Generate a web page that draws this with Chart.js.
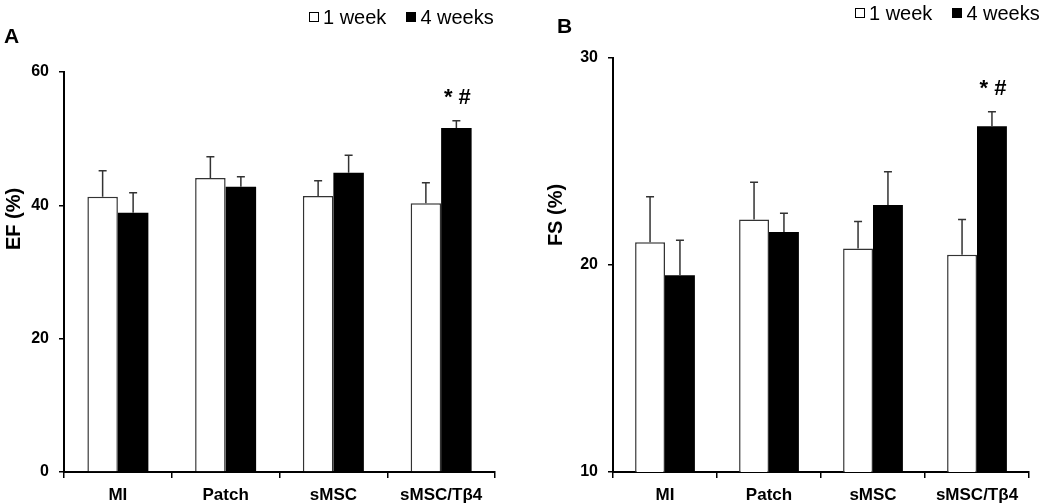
<!DOCTYPE html>
<html>
<head>
<meta charset="utf-8">
<script src="https://cdn.jsdelivr.net/npm/chart.js@4.4.1/dist/chart.umd.min.js"></script>
<style>
  body { margin: 0; background: #fff; font-family: 'Liberation Sans', Arial, sans-serif; }
  #wrap { position: relative; width: 1050px; height: 504px; overflow: hidden; }
  canvas { position: absolute; top: 0; }
  .letter { position: absolute; font-weight: bold; font-size: 21px; color: #000; }
  .legend { position: absolute; font-size: 20px; color: #000; white-space: nowrap; }
  .sw { display: inline-block; width: 8px; height: 8px; border: 1px solid #000; margin-right: 4px; vertical-align: 2px; }
  .sw.on { background: #000; margin-left: 20px; }
  .ytitle { position: absolute; font-weight: bold; font-size: 20px; color: #000; white-space: nowrap;
            width: 100px; text-align: center; line-height: 24px; transform: translate(-50%, -50%) rotate(-90deg); }
</style>
</head>
<body>
<div id="wrap">
  <canvas id="chartA" width="520" height="504" style="left:0"></canvas>
  <canvas id="chartB" width="530" height="504" style="left:520px"></canvas>
  <div class="letter" style="left:4px; top:24px">A</div>
  <div class="letter" style="left:557px; top:14px">B</div>
  <div class="legend" style="left:309px; top:6px"><span class="sw"></span>1 week<span class="sw on"></span>4 weeks</div>
  <div class="legend" style="left:855px; top:2px"><span class="sw"></span>1 week<span class="sw on"></span>4 weeks</div>
  <div class="ytitle" style="left:13px; top:219px">EF (%)</div>
  <div class="ytitle" style="left:555px; top:215px">FS (%)</div>
</div>
<script>
const groups = ['MI', 'Patch', 'sMSC', 'sMSC/Tβ4'];
const seriesNames = ['1 week', '4 weeks'];

// EF (%) panel A
const efWeek1 = [41.3, 44.1, 41.4, 40.3];
const efWeek1Err = [3.9, 3.2, 2.3, 3.1];
const efWeek4 = [38.9, 42.8, 44.9, 51.6];
const efWeek4Err = [3.0, 1.5, 2.6, 1.1];

// FS (%) panel B
const fsWeek1 = [21.1, 22.2, 20.8, 20.5];
const fsWeek1Err = [2.2, 1.8, 1.3, 1.7];
const fsWeek4 = [19.5, 21.6, 22.9, 26.7];
const fsWeek4Err = [1.7, 0.9, 1.6, 0.7];

const sigMarks = ['', '', '', '* #'];

const FONT = "'Liberation Sans', Arial, sans-serif";

// draws upper error bars + significance text above the 4-week bars
const errorBars = {
    id: 'errorBars',
    afterDatasetsDraw(chart) {
        const ctx = chart.ctx;
        const yScale = chart.scales.y;
        chart.data.datasets.forEach((ds, i) => {
            const meta = chart.getDatasetMeta(i);
            meta.data.forEach((bar, j) => {
                const top = yScale.getPixelForValue(ds.data[j] + ds.errors[j]);
                ctx.save();
                ctx.strokeStyle = '#333';
                ctx.lineWidth = 1.5;
                ctx.beginPath();
                ctx.moveTo(bar.x, bar.y);
                ctx.lineTo(bar.x, top);
                ctx.moveTo(bar.x - 4, top);
                ctx.lineTo(bar.x + 4, top);
                ctx.stroke();
                if (i === 1 && sigMarks[j]) {
                    ctx.fillStyle = '#000';
                    ctx.font = 'bold 22px ' + FONT;
                    ctx.textAlign = 'center';
                    ctx.textBaseline = 'bottom';
                    ctx.fillText(sigMarks[j], bar.x + 1, top - 12);
                }
                ctx.restore();
            });
        });
    }
};

function makeChart(id, cfg) {
    return new Chart(document.getElementById(id), {
        type: 'bar',
        data: {
            labels: groups,
            datasets: [
                {
                    label: seriesNames[0],
                    data: cfg.week1,
                    errors: cfg.week1Err,
                    backgroundColor: '#fff',
                    borderColor: '#333',
                    borderWidth: 1.5,
                    categoryPercentage: cfg.catPct,
                    barPercentage: 1
                },
                {
                    label: seriesNames[1],
                    data: cfg.week4,
                    errors: cfg.week4Err,
                    backgroundColor: '#000',
                    borderColor: '#000',
                    borderWidth: 0,
                    categoryPercentage: cfg.catPct,
                    barPercentage: 1
                }
            ]
        },
        options: {
            responsive: false,
            animation: false,
            events: [],
            layout: { padding: { top: cfg.top, right: cfg.right, bottom: 0, left: 0 } },
            plugins: { legend: { display: false }, tooltip: { enabled: false } },
            scales: {
                x: {
                    afterFit: (axis) => { axis.height = 32; },
                    grid: { offset: true, drawOnChartArea: false, drawTicks: true, tickLength: 6, color: '#000', lineWidth: 1.5 },
                    border: { display: true, color: '#000', width: 2 },
                    ticks: { color: '#000', padding: 7, font: { family: FONT, size: 17, weight: 'bold' } }
                },
                y: {
                    min: cfg.min,
                    max: cfg.max,
                    afterFit: (axis) => { axis.width = cfg.yWidth; },
                    grid: { drawOnChartArea: false, drawTicks: true, tickLength: 5, color: '#000', lineWidth: 1.5 },
                    border: { display: true, color: '#000', width: 2 },
                    ticks: { stepSize: cfg.step, color: '#000', padding: 10, font: { family: FONT, size: 16, weight: 'bold' } }
                }
            }
        },
        plugins: [errorBars]
    });
}

makeChart('chartA', {
    week1: efWeek1, week1Err: efWeek1Err, week4: efWeek4, week4Err: efWeek4Err,
    min: 0, max: 60, step: 20,
    top: 72, right: 25, yWidth: 64, catPct: 0.566
});

makeChart('chartB', {
    week1: fsWeek1, week1Err: fsWeek1Err, week4: fsWeek4, week4Err: fsWeek4Err,
    min: 10, max: 30, step: 10,
    top: 58, right: 21, yWidth: 93, catPct: 0.575
});
</script>
</body>
</html>
